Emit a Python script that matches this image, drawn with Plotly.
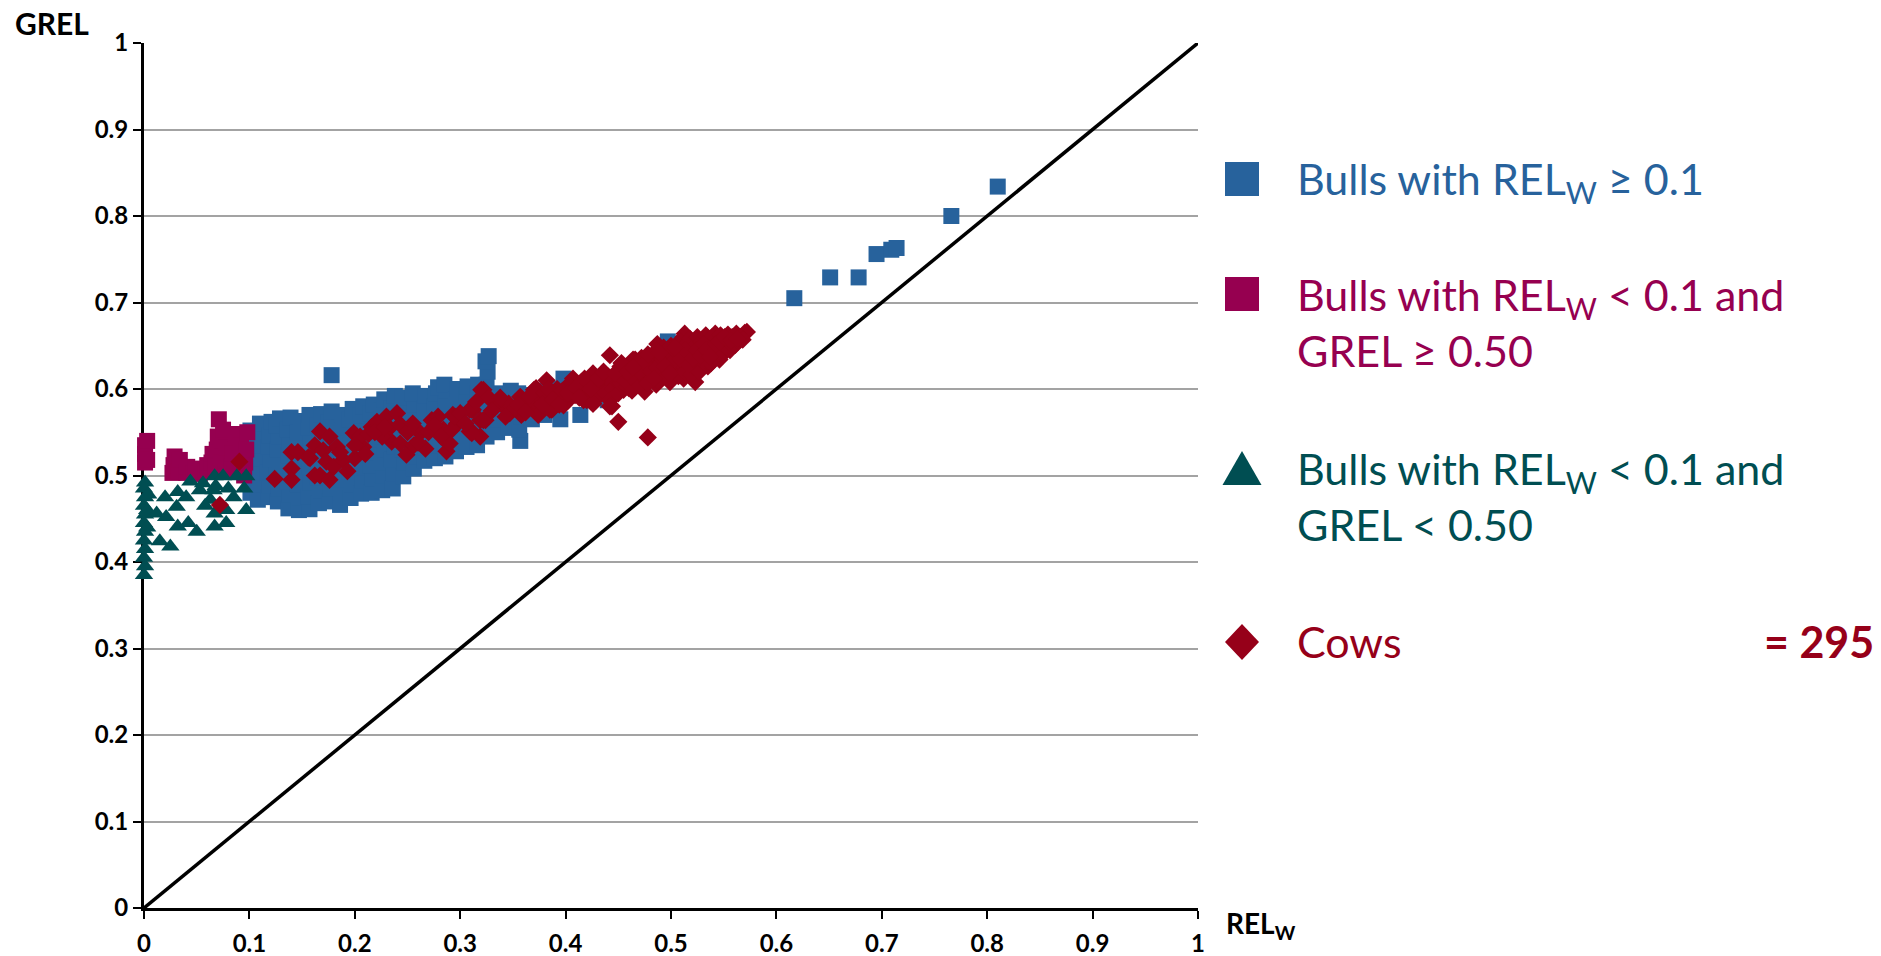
import plotly.graph_objects as go

# ---- data -------------------------------------------------------------
# Bulls with REL_W >= 0.1  (REL_W, GREL)
bulls_high = [
    (0.101, 0.480), (0.101, 0.495), (0.102, 0.510), (0.101, 0.525), (0.102, 0.540), (0.101, 0.552),
    (0.108, 0.472), (0.109, 0.490), (0.108, 0.505), (0.110, 0.520), (0.108, 0.535), (0.109, 0.548), (0.110, 0.560),
    (0.118, 0.475), (0.119, 0.488), (0.117, 0.503), (0.120, 0.518), (0.118, 0.533), (0.119, 0.546), (0.121, 0.562),
    (0.127, 0.470), (0.128, 0.485), (0.126, 0.500), (0.129, 0.515), (0.127, 0.530), (0.128, 0.545), (0.126, 0.558), (0.129, 0.566),
    (0.137, 0.462), (0.138, 0.478), (0.136, 0.493), (0.139, 0.508), (0.137, 0.523), (0.138, 0.538), (0.136, 0.553), (0.139, 0.567),
    (0.147, 0.460), (0.148, 0.475), (0.146, 0.490), (0.149, 0.505), (0.147, 0.520), (0.148, 0.535), (0.146, 0.550), (0.149, 0.563),
    (0.157, 0.461), (0.156, 0.476), (0.158, 0.492), (0.157, 0.510), (0.155, 0.525), (0.158, 0.540), (0.156, 0.555), (0.157, 0.570),
    (0.166, 0.468), (0.167, 0.483), (0.165, 0.498), (0.168, 0.513), (0.166, 0.528), (0.167, 0.543), (0.165, 0.558), (0.168, 0.571),
    (0.176, 0.470), (0.177, 0.485), (0.175, 0.500), (0.178, 0.515), (0.176, 0.530), (0.177, 0.546), (0.175, 0.561), (0.178, 0.574),
    (0.178, 0.616),
    (0.186, 0.466), (0.187, 0.480), (0.185, 0.495), (0.188, 0.510), (0.186, 0.525), (0.187, 0.540), (0.185, 0.555), (0.188, 0.570),
    (0.196, 0.474), (0.197, 0.490), (0.195, 0.505), (0.198, 0.520), (0.196, 0.535), (0.197, 0.550), (0.195, 0.565), (0.198, 0.577),
    (0.206, 0.479), (0.207, 0.494), (0.205, 0.509), (0.208, 0.524), (0.206, 0.539), (0.207, 0.554), (0.205, 0.569), (0.208, 0.580),
    (0.216, 0.480), (0.217, 0.497), (0.215, 0.512), (0.218, 0.527), (0.216, 0.542), (0.217, 0.557), (0.215, 0.572), (0.218, 0.582),
    (0.226, 0.483), (0.227, 0.500), (0.225, 0.515), (0.228, 0.530), (0.226, 0.545), (0.227, 0.560), (0.225, 0.575), (0.228, 0.588),
    (0.236, 0.485), (0.237, 0.502), (0.235, 0.518), (0.238, 0.533), (0.236, 0.548), (0.237, 0.563), (0.235, 0.578), (0.238, 0.592),
    (0.246, 0.499), (0.247, 0.515), (0.245, 0.530), (0.248, 0.545), (0.246, 0.560), (0.247, 0.575), (0.245, 0.590),
    (0.256, 0.508), (0.257, 0.522), (0.255, 0.537), (0.258, 0.552), (0.256, 0.567), (0.257, 0.582), (0.255, 0.595),
    (0.266, 0.517), (0.267, 0.532), (0.265, 0.547), (0.268, 0.562), (0.266, 0.577), (0.267, 0.592),
    (0.276, 0.520), (0.277, 0.535), (0.275, 0.550), (0.278, 0.565), (0.276, 0.580), (0.277, 0.595), (0.279, 0.602),
    (0.286, 0.522), (0.287, 0.538), (0.285, 0.553), (0.288, 0.568), (0.286, 0.583), (0.287, 0.598), (0.285, 0.605),
    (0.296, 0.528), (0.297, 0.543), (0.295, 0.558), (0.298, 0.573), (0.296, 0.588), (0.297, 0.600),
    (0.306, 0.533), (0.307, 0.548), (0.305, 0.563), (0.308, 0.578), (0.306, 0.593), (0.307, 0.603),
    (0.316, 0.535), (0.317, 0.550), (0.315, 0.565), (0.318, 0.580), (0.316, 0.595), (0.317, 0.605),
    (0.325, 0.545), (0.326, 0.560), (0.324, 0.575), (0.327, 0.590), (0.325, 0.605), (0.326, 0.620), (0.324, 0.632), (0.327, 0.638),
    (0.335, 0.550), (0.336, 0.565), (0.334, 0.580), (0.337, 0.595),
    (0.346, 0.555), (0.347, 0.570), (0.345, 0.585), (0.348, 0.598),
    (0.357, 0.540), (0.356, 0.553), (0.358, 0.568), (0.357, 0.583), (0.355, 0.595),
    (0.368, 0.565), (0.369, 0.580), (0.367, 0.593),
    (0.380, 0.570), (0.381, 0.585), (0.379, 0.598),
    (0.395, 0.565), (0.394, 0.600), (0.398, 0.612),
    (0.414, 0.570), (0.440, 0.587), (0.497, 0.655),
    (0.617, 0.705), (0.651, 0.729), (0.678, 0.729), (0.695, 0.756),
    (0.709, 0.761), (0.714, 0.763), (0.766, 0.800), (0.810, 0.834),
]

# Bulls with REL_W < 0.1 and GREL >= 0.50
bulls_low_hi = [
    (0.001, 0.515), (0.001, 0.525), (0.001, 0.535), (0.003, 0.540), (0.003, 0.518),
    (0.027, 0.503), (0.028, 0.512), (0.029, 0.522), (0.033, 0.505), (0.034, 0.518),
    (0.040, 0.503), (0.041, 0.510), (0.047, 0.502), (0.049, 0.508), (0.053, 0.502),
    (0.055, 0.507), (0.058, 0.505), (0.060, 0.512), (0.063, 0.508), (0.064, 0.515),
    (0.065, 0.525), (0.068, 0.510), (0.069, 0.530), (0.070, 0.545), (0.071, 0.565),
    (0.073, 0.515), (0.074, 0.540), (0.075, 0.553), (0.077, 0.505), (0.078, 0.520),
    (0.078, 0.532), (0.083, 0.510), (0.084, 0.525), (0.087, 0.548), (0.090, 0.505),
    (0.091, 0.520), (0.092, 0.535), (0.095, 0.500), (0.096, 0.515), (0.097, 0.530),
    (0.098, 0.550),
]

# Bulls with REL_W < 0.1 and GREL < 0.50
bulls_low_lo = [
    (0.000, 0.385), (0.001, 0.395), (0.000, 0.405), (0.001, 0.415), (0.000, 0.425),
    (0.001, 0.435), (0.000, 0.445), (0.001, 0.455), (0.000, 0.465), (0.001, 0.475),
    (0.000, 0.485), (0.001, 0.492), (0.003, 0.440), (0.003, 0.460), (0.004, 0.478),
    (0.012, 0.456), (0.015, 0.424), (0.020, 0.475), (0.021, 0.452), (0.025, 0.418),
    (0.031, 0.464), (0.032, 0.481), (0.032, 0.441), (0.040, 0.475), (0.042, 0.445),
    (0.044, 0.493), (0.050, 0.435), (0.053, 0.483), (0.056, 0.491), (0.063, 0.472),
    (0.066, 0.483), (0.067, 0.499), (0.067, 0.456), (0.067, 0.441), (0.068, 0.488),
    (0.075, 0.499), (0.078, 0.460), (0.078, 0.445), (0.085, 0.475), (0.088, 0.499),
    (0.097, 0.499), (0.097, 0.460), (0.095, 0.485), (0.080, 0.485), (0.058, 0.465),
]

# Cows (REL_W, GREL)
cows = [
    (0.072, 0.466), (0.0905, 0.516), (0.124, 0.496), (0.140, 0.527), (0.146, 0.527), (0.140, 0.508), (0.140, 0.495), (0.1575, 0.520), (0.162, 0.500), (0.167, 0.551),
    (0.156, 0.521), (0.162, 0.535), (0.176, 0.545), (0.183, 0.533), (0.170, 0.529), (0.173, 0.516), (0.167, 0.500), (0.176, 0.495), (0.180, 0.510), (0.189, 0.518),
    (0.199, 0.549), (0.200, 0.520), (0.208, 0.533), (0.205, 0.545), (0.216, 0.556), (0.221, 0.562), (0.230, 0.568), (0.240, 0.572), (0.233, 0.555), (0.243, 0.559),
    (0.235, 0.539), (0.243, 0.537), (0.249, 0.524), (0.256, 0.535), (0.262, 0.549), (0.267, 0.531), (0.273, 0.564), (0.279, 0.568), (0.284, 0.553), (0.293, 0.570),
    (0.297, 0.560), (0.292, 0.553), (0.287, 0.539), (0.287, 0.528), (0.290, 0.537), (0.295, 0.568), (0.186, 0.527), (0.193, 0.505), (0.213, 0.548), (0.226, 0.545),
    (0.309, 0.551), (0.312, 0.576), (0.319, 0.564), (0.322, 0.599), (0.311, 0.576), (0.324, 0.564), (0.311, 0.551), (0.319, 0.545), (0.334, 0.584), (0.341, 0.580),
    (0.347, 0.572), (0.358, 0.570), (0.368, 0.580), (0.370, 0.599), (0.382, 0.610), (0.376, 0.589), (0.387, 0.576), (0.374, 0.570), (0.390, 0.593), (0.400, 0.587),
    (0.407, 0.612), (0.409, 0.593), (0.417, 0.603), (0.420, 0.587), (0.426, 0.583), (0.428, 0.610), (0.426, 0.618), (0.433, 0.599), (0.439, 0.610), (0.442, 0.639),
    (0.444, 0.580), (0.450, 0.562), (0.448, 0.599), (0.406, 0.591), (0.395, 0.591), (0.398, 0.581), (0.385, 0.576), (0.372, 0.601), (0.370, 0.587), (0.357, 0.591),
    (0.346, 0.583), (0.334, 0.583), (0.320, 0.599), (0.322, 0.564), (0.309, 0.576), (0.311, 0.549), (0.327, 0.590), (0.352, 0.578), (0.363, 0.585), (0.380, 0.595),
    (0.392, 0.600), (0.403, 0.605), (0.412, 0.598), (0.415, 0.608), (0.422, 0.595), (0.430, 0.590), (0.435, 0.605), (0.438, 0.595), (0.440, 0.615), (0.445, 0.600),
    (0.455, 0.614), (0.461, 0.622), (0.466, 0.634), (0.460, 0.601), (0.467, 0.610), (0.478, 0.544), (0.487, 0.652), (0.512, 0.660), (0.524, 0.655), (0.542, 0.664),
    (0.553, 0.660), (0.570, 0.665), (0.561, 0.651), (0.546, 0.634), (0.535, 0.626), (0.523, 0.608), (0.512, 0.612), (0.499, 0.608), (0.486, 0.605), (0.475, 0.597),
    (0.464, 0.634), (0.455, 0.622), (0.477, 0.626), (0.486, 0.634), (0.499, 0.638), (0.512, 0.642), (0.528, 0.645), (0.537, 0.649), (0.493, 0.622), (0.505, 0.626),
    (0.518, 0.630), (0.531, 0.638), (0.543, 0.653), (0.534, 0.660), (0.524, 0.634), (0.467, 0.614), (0.480, 0.614), (0.461, 0.607), (0.448, 0.610), (0.439, 0.614),
    (0.429, 0.608), (0.420, 0.607), (0.417, 0.587), (0.426, 0.583), (0.442, 0.587), (0.442, 0.580), (0.455, 0.599), (0.572, 0.666), (0.513, 0.664), (0.452, 0.626),
    (0.450, 0.595), (0.452, 0.607), (0.455, 0.616), (0.458, 0.603), (0.460, 0.628), (0.463, 0.598), (0.465, 0.618), (0.468, 0.626), (0.470, 0.605), (0.472, 0.636),
    (0.473, 0.615), (0.476, 0.622), (0.478, 0.607), (0.480, 0.638), (0.482, 0.628), (0.484, 0.618), (0.486, 0.644), (0.488, 0.610), (0.490, 0.630), (0.491, 0.620),
    (0.493, 0.648), (0.495, 0.637), (0.496, 0.613), (0.498, 0.628), (0.500, 0.650), (0.501, 0.620), (0.503, 0.640), (0.505, 0.633), (0.507, 0.615), (0.508, 0.655),
    (0.510, 0.645), (0.511, 0.628), (0.513, 0.620), (0.515, 0.652), (0.516, 0.636), (0.518, 0.658), (0.519, 0.617), (0.520, 0.642), (0.522, 0.626), (0.523, 0.650),
    (0.525, 0.660), (0.526, 0.638), (0.527, 0.620), (0.529, 0.654), (0.530, 0.632), (0.532, 0.646), (0.533, 0.662), (0.535, 0.640), (0.536, 0.655), (0.538, 0.630),
    (0.539, 0.660), (0.540, 0.645), (0.541, 0.637), (0.543, 0.658), (0.544, 0.648), (0.545, 0.642), (0.547, 0.662), (0.548, 0.652), (0.549, 0.640), (0.550, 0.656),
    (0.552, 0.648), (0.554, 0.663), (0.555, 0.654), (0.556, 0.645), (0.558, 0.660), (0.559, 0.650), (0.562, 0.664), (0.564, 0.655), (0.566, 0.660), (0.568, 0.657),
    (0.456, 0.610), (0.462, 0.615), (0.470, 0.620), (0.475, 0.630), (0.481, 0.620), (0.487, 0.625), (0.492, 0.635), (0.497, 0.645), (0.502, 0.632), (0.506, 0.642),
    (0.509, 0.635), (0.514, 0.645), (0.517, 0.628), (0.521, 0.635), (0.524, 0.645), (0.528, 0.638), (0.531, 0.652), (0.534, 0.645), (0.537, 0.638), (0.542, 0.652),
    (0.546, 0.655), (0.551, 0.660), (0.557, 0.656), (0.563, 0.658), (0.478, 0.640), (0.484, 0.612), (0.489, 0.642), (0.494, 0.626), (0.499, 0.618), (0.504, 0.648),
    (0.300, 0.572), (0.305, 0.560), (0.315, 0.585), (0.330, 0.575), (0.338, 0.590), (0.343, 0.568), (0.355, 0.582), (0.362, 0.573), (0.366, 0.592), (0.378, 0.582),
    (0.384, 0.600), (0.388, 0.588), (0.394, 0.582), (0.397, 0.598), (0.402, 0.595), (0.410, 0.602), (0.413, 0.590), (0.418, 0.612), (0.424, 0.600), (0.431, 0.612),
    (0.200, 0.535), (0.210, 0.525), (0.219, 0.550), (0.228, 0.556), (0.250, 0.550), (0.255, 0.560), (0.260, 0.538), (0.270, 0.550), (0.276, 0.558), (0.282, 0.545),
    (0.436, 0.620), (0.447, 0.618), (0.453, 0.630), (0.459, 0.620), (0.464, 0.625),
]

# reference line GREL = REL_W
diag = [0, 1]

tick_vals = [0, 0.1, 0.2, 0.3, 0.4, 0.5, 0.6, 0.7, 0.8, 0.9, 1]
tick_text = ["0", "0.1", "0.2", "0.3", "0.4", "0.5", "0.6", "0.7", "0.8", "0.9", "1"]

# ---- styling ------------------------------------------------------------
BLUE = "#27629C"
MAGENTA = "#960050"
TEAL = "#004E52"
RED = "#960019"
FONT = "Lato, 'Open Sans', sans-serif"

W, H = 1881, 956
L, R, T, B = 144, 683, 43, 48


def px(x):
    return (x - L) / (W - L - R)


def py(y):
    return (H - B - y) / (H - T - B)


def xs(pts):
    return [p[0] for p in pts]


def ys(pts):
    return [p[1] for p in pts]


fig = go.Figure()

fig.add_trace(go.Scatter(x=diag, y=diag, mode="lines",
                         line=dict(color="black", width=3.5), hoverinfo="skip"))
fig.add_trace(go.Scatter(x=xs(bulls_high), y=ys(bulls_high), mode="markers",
                         marker=dict(symbol="square", size=16, color=BLUE, line=dict(width=0)),
                         cliponaxis=False))
fig.add_trace(go.Scatter(x=xs(bulls_low_hi), y=ys(bulls_low_hi), mode="markers",
                         marker=dict(symbol="square", size=16, color=MAGENTA, line=dict(width=0)),
                         cliponaxis=False))
fig.add_trace(go.Scatter(x=xs(bulls_low_lo), y=ys(bulls_low_lo), mode="markers",
                         marker=dict(symbol="triangle-up", size=16, color=TEAL, line=dict(width=0)),
                         cliponaxis=False))
fig.add_trace(go.Scatter(x=xs(cows), y=ys(cows), mode="markers",
                         marker=dict(symbol="diamond", size=14, color=RED, line=dict(width=0)),
                         cliponaxis=False))

axis_common = dict(
    range=[0, 1], autorange=False, automargin=False, tickmode="array",
    tickvals=tick_vals, ticktext=tick_text,
    showline=True, linecolor="black", linewidth=3, ticks="outside", ticklen=8, tickwidth=2,
    tickcolor="black", zeroline=False, layer="below traces",
    tickfont=dict(family=FONT, size=24, color="black", weight="bold"),
)

fig.update_layout(
    width=W, height=H, showlegend=False,
    margin=dict(l=L, r=R, t=T, b=B, pad=0),
    paper_bgcolor="white", plot_bgcolor="white",
    xaxis=dict(**axis_common, showgrid=False, ticklabelstandoff=4),
    yaxis=dict(**axis_common, showgrid=True, gridcolor="#A3A3A3", gridwidth=1.5,
               ticklabelstandoff=0),
)

# legend keys (pixel-sized symbols anchored in paper space)
KEY_X = 1242
key_shapes = [
    dict(type="rect", x0=-17, x1=17, y0=-17, y1=17, fillcolor=BLUE, ya=179),
    dict(type="rect", x0=-17, x1=17, y0=-17, y1=17, fillcolor=MAGENTA, ya=294),
    dict(type="path", path="M -19.5,-16 L 19.5,-16 L 0,18 Z", fillcolor=TEAL, ya=469),
    dict(type="path", path="M 0,-18 L 17,0 L 0,18 L -17,0 Z", fillcolor=RED, ya=642),
]
shapes = []
for s in key_shapes:
    ya = s.pop("ya")
    s.update(xref="paper", yref="paper", xsizemode="pixel", ysizemode="pixel",
             xanchor=px(KEY_X), yanchor=py(ya), line=dict(width=0))
    shapes.append(s)

ann = []
ann.append(dict(text="<b>GREL</b>", x=px(13), y=py(23), xanchor="left", yanchor="middle",
                font=dict(family=FONT, size=30, color="black")))
ann.append(dict(text="<b>REL<sub>W</sub></b>", x=px(1224), y=py(925), xanchor="left",
                yanchor="middle", font=dict(family=FONT, size=28, color="black")))

legend_rows = [
    ("Bulls with REL<sub>W</sub> ≥ 0.1", 182, BLUE),
    ("Bulls with REL<sub>W</sub> &lt; 0.1 and<br>GREL ≥ 0.50", 323, MAGENTA),
    ("Bulls with REL<sub>W</sub> &lt; 0.1 and<br>GREL &lt; 0.50", 496, TEAL),
    ("Cows", 641, RED),
]
for text, ypix, col in legend_rows:
    ann.append(dict(text=text, x=px(1295), y=py(ypix), xanchor="left", yanchor="middle",
                    align="left", font=dict(family=FONT, size=43, color=col)))
ann.append(dict(text="<b>= 295</b>", x=px(1876), y=py(641), xanchor="right", yanchor="middle",
                font=dict(family=FONT, size=43, color=RED)))

for a in ann:
    a.update(xref="paper", yref="paper", showarrow=False)
fig.update_layout(annotations=ann, shapes=shapes)

fig.write_html("out.html")
